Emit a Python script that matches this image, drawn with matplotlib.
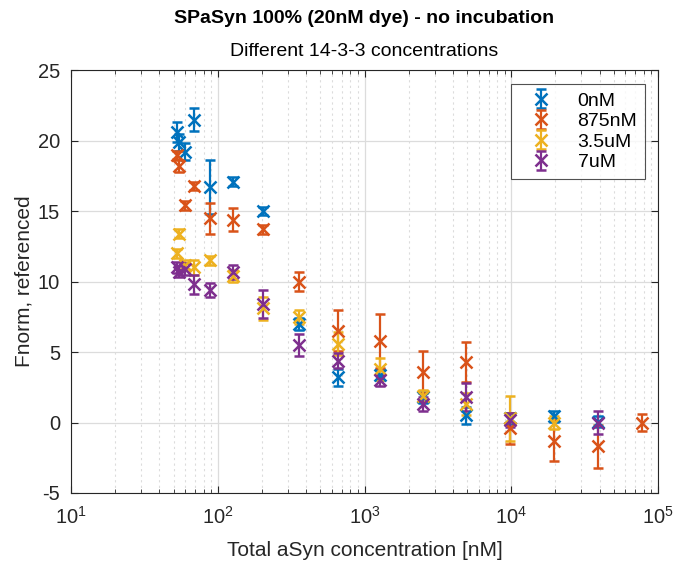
import numpy as np
import matplotlib
matplotlib.use('Agg')
import matplotlib.pyplot as plt
from matplotlib.ticker import LogLocator, FixedLocator

plt.rcParams['font.family'] = ['Liberation Sans', 'DejaVu Sans']
plt.rcParams['axes.unicode_minus'] = False

# total aSyn concentration [nM] (2x dilution series on top of the dye)
conc = [52.4, 54.8, 59.5, 69.1, 88.1, 126, 203, 355, 660, 1271,
        2491, 4933, 9816, 19581, 39090, 78175]

nan = np.nan
labels = ['0nM', '875nM', '3.5uM', '7uM']
colors = ['#0072BD', '#D95319', '#EDB120', '#7E2F8E']

y_0nM   = [20.6, 19.9, 19.2, 21.5, 16.7, 17.1, 15.0, 7.0, 3.2, 3.4,
           1.8, 0.5, 0.3, 0.45, 0.05, nan]
err_0nM = [0.7, 0.6, 0.6, 0.8, 1.9, 0.3, 0.3, 0.4, 0.6, 0.4,
           0.4, 0.6, 0.4, 0.4, 0.4, nan]

y_875nM   = [19.0, 18.2, 15.4, 16.8, 14.5, 14.4, 13.7, 10.0, 6.5, 5.8,
             3.6, 4.3, -0.4, -1.3, -1.7, 0.0]
err_875nM = [0.3, 0.4, 0.3, 0.3, 1.1, 0.8, 0.3, 0.7, 1.45, 1.9,
             1.5, 1.4, 1.1, 1.45, 1.5, 0.6]

y_3p5uM   = [12.0, 13.4, 11.2, 11.0, 11.5, 10.4, 8.1, 7.5, 5.6, 3.8,
             1.9, 1.3, 0.3, 0.0, nan, nan]
err_3p5uM = [0.3, 0.3, 0.3, 0.5, 0.3, 0.4, 0.8, 0.5, 0.8, 0.8,
             0.4, 0.8, 1.6, 0.45, nan, nan]

y_7uM   = [11.0, 10.7, 10.9, 9.8, 9.4, 10.7, 8.4, 5.5, 4.4, 3.0,
           1.3, 1.8, 0.2, nan, 0.0, nan]
err_7uM = [0.4, 0.4, 0.4, 0.7, 0.5, 0.5, 1.0, 0.8, 0.5, 0.4,
           0.5, 1.0, 0.5, nan, 0.8, nan]

series = [(y_0nM, err_0nM), (y_875nM, err_875nM),
          (y_3p5uM, err_3p5uM), (y_7uM, err_7uM)]

fig = plt.figure(figsize=(6.77, 5.66), dpi=100)
ax = fig.add_axes([0.105, 0.129, 0.867, 0.747])

for (y, e), lab, c in zip(series, labels, colors):
    ax.errorbar(conc, y, yerr=e, fmt='x', color=c, label=lab,
                markersize=8, markeredgewidth=1.8,
                elinewidth=1.6, capsize=3.8, capthick=1.6)

ax.set_xscale('log')
ax.set_xlim(10, 1e5)
ax.set_ylim(-5, 25)
ax.set_yticks(np.arange(-5, 26, 5))
ax.xaxis.set_major_locator(FixedLocator([1e1, 1e2, 1e3, 1e4, 1e5]))
ax.xaxis.set_minor_locator(LogLocator(base=10, subs=np.arange(2, 10)))

# MATLAB-ish look: grid, minor x grid, inward ticks on all sides
ax.grid(True, which='major', color='#dcdcdc', linewidth=0.9)
ax.grid(True, which='minor', axis='x', color='#dcdcdc', linestyle=(0, (2, 3)), linewidth=0.8)
ax.set_axisbelow(True)
ax.tick_params(which='both', direction='in', top=True, right=True,
               labelsize=14.5, colors='#262626')
ax.tick_params(axis='x', which='major', length=5, pad=9)
ax.tick_params(axis='y', which='major', length=5, pad=8)
ax.tick_params(which='minor', length=3)
for s in ax.spines.values():
    s.set_color('#262626')
    s.set_linewidth(0.8)

ax.set_xlabel('Total aSyn concentration [nM]', fontsize=15, color='#262626', labelpad=10)
ax.set_ylabel('Fnorm, referenced', fontsize=15, color='#262626', labelpad=3)

fig.text(0.538, 0.968, 'SPaSyn 100% (20nM dye) - no incubation',
         ha='center', va='center', fontsize=14, fontweight='bold', color='black')
fig.text(0.538, 0.909, 'Different 14-3-3 concentrations',
         ha='center', va='center', fontsize=14, color='black')

leg = ax.legend(loc='upper right', bbox_to_anchor=(0.978, 0.967), borderaxespad=0,
                fontsize=14, frameon=True, fancybox=False, handlelength=2.2,
                handletextpad=0.8, borderpad=0.4, labelspacing=0.15)
leg.get_frame().set_edgecolor('#262626')
leg.get_frame().set_linewidth(0.8)

fig.savefig('out.png', dpi=100)
